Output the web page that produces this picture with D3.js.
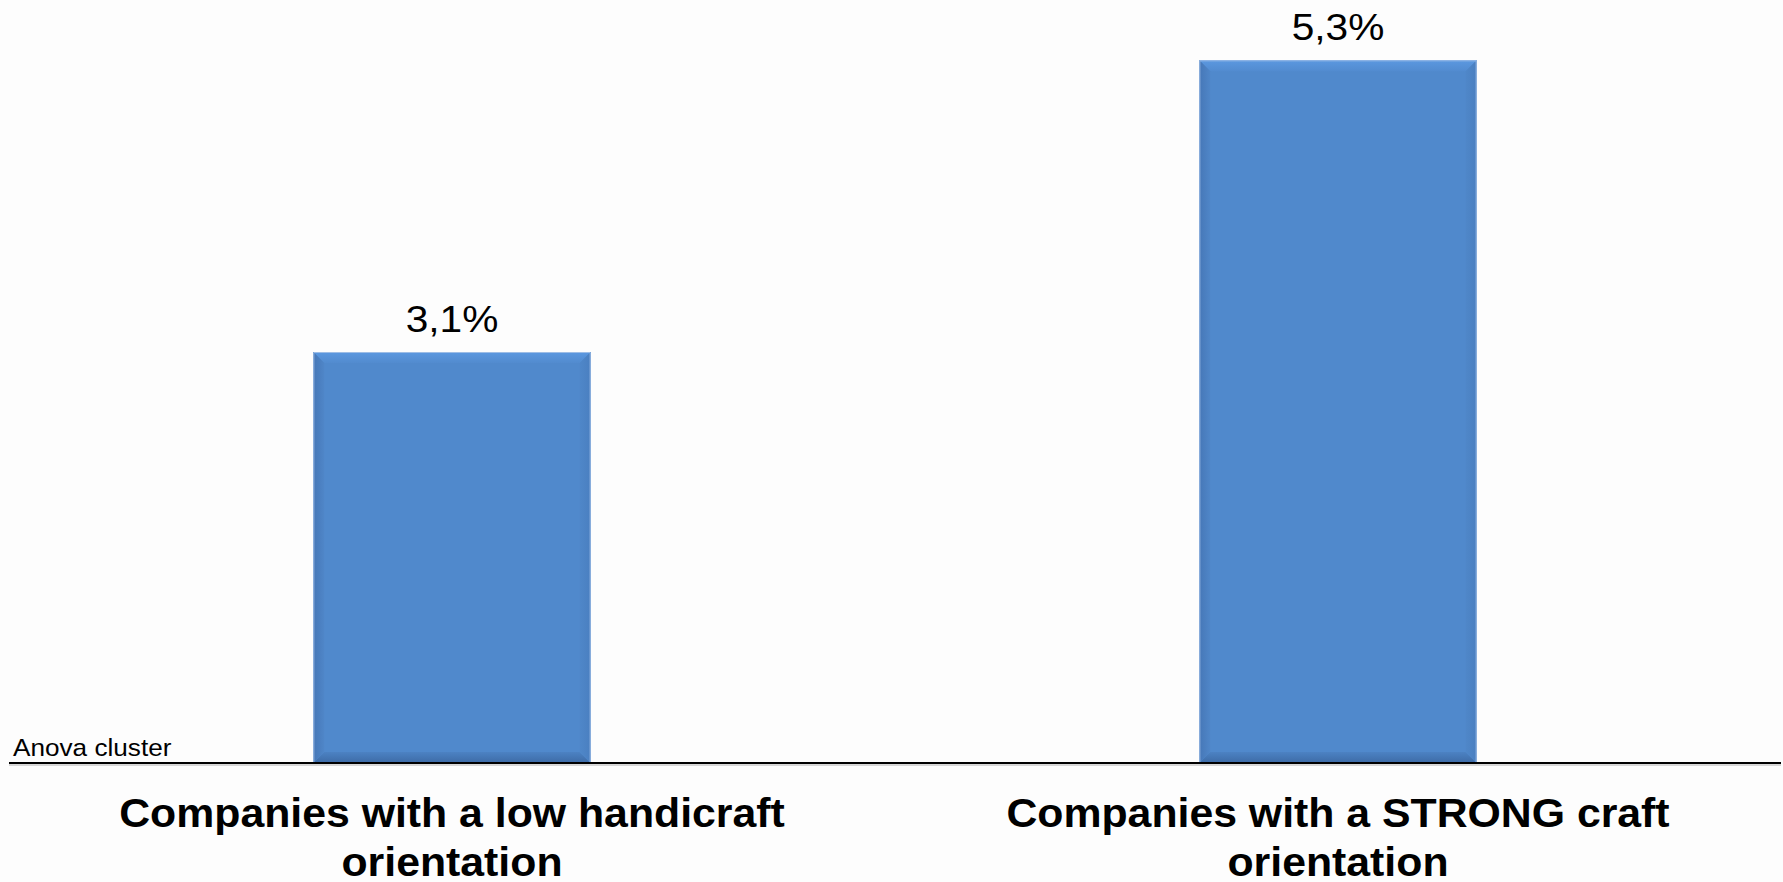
<!DOCTYPE html>
<html>
<head>
<meta charset="utf-8">
<script src="https://cdn.jsdelivr.net/npm/d3@7"></script>
<style>
  html, body { margin: 0; padding: 0; background: #fdfdfd; }
  svg { display: block; }
</style>
</head>
<body>
<svg id="chart" width="1783" height="882"></svg>
<script>
// Share of companies per cluster (%)
const categories = [
  ["Companies with a low handicraft", "orientation"],
  ["Companies with a STRONG craft", "orientation"]
];
const values = [3.1, 5.3];
const valueLabels = ["3,1%", "5,3%"];
const clusterNote = "Anova cluster";

const width = 1783, height = 882;
const baseY = 763;
const font = "Liberation Sans, Arial, sans-serif";

const svg = d3.select("#chart");

const x = d3.scaleBand()
  .domain(d3.range(values.length))
  .range([9, 1781])
  .paddingInner(0.687)
  .paddingOuter(0.3435);

const y = d3.scaleLinear()
  .domain([0, 5.755])
  .range([baseY, 0]);

// Gradients for the bevelled bar edges
const defs = svg.append("defs");
function grad(id, x1, y1, x2, y2, stops) {
  const g = defs.append("linearGradient").attr("id", id)
    .attr("x1", x1).attr("y1", y1).attr("x2", x2).attr("y2", y2);
  stops.forEach(([o, c]) => g.append("stop").attr("offset", o).attr("stop-color", c));
}
grad("bevTop", 0, 0, 0, 1, [[0, "#5b98e0"], [1, "#528bcf"]]);
grad("bevBottom", 0, 0, 0, 1, [[0, "#4c82c3"], [1, "#3d6ba6"]]);
grad("bevLeft", 0, 0, 1, 0, [[0, "#4677b7"], [1, "#4f86c8"]]);
grad("bevRight", 0, 0, 1, 0, [[0, "#4f87c9"], [1, "#4a7fc0"]]);

const bev = 11;
const bars = svg.append("g").selectAll("g")
  .data(values)
  .join("g");

bars.each(function(d, i) {
  const g = d3.select(this);
  const x0 = x(i), x1 = x(i) + x.bandwidth();
  const y0 = y(d), y1 = y(0);
  g.append("rect")
    .attr("x", x0).attr("y", y0)
    .attr("width", x1 - x0).attr("height", y1 - y0)
    .attr("fill", "#5089cc");
  const poly = pts => pts.map(p => p.join(",")).join(" ");
  g.append("polygon").attr("fill", "url(#bevTop)")
    .attr("points", poly([[x0, y0], [x1, y0], [x1 - bev, y0 + bev], [x0 + bev, y0 + bev]]));
  g.append("polygon").attr("fill", "url(#bevBottom)")
    .attr("points", poly([[x0 + bev, y1 - bev], [x1 - bev, y1 - bev], [x1, y1], [x0, y1]]));
  g.append("polygon").attr("fill", "url(#bevLeft)")
    .attr("points", poly([[x0, y0], [x0 + bev, y0 + bev], [x0 + bev, y1 - bev], [x0, y1]]));
  g.append("polygon").attr("fill", "url(#bevRight)")
    .attr("points", poly([[x1 - bev, y0 + bev], [x1, y0], [x1, y1], [x1 - bev, y1 - bev]]));
  // thin light outline on top and sides
  g.append("path")
    .attr("d", `M${x0 + 0.5},${y1} V${y0 + 0.5} H${x1 - 0.5} V${y1}`)
    .attr("fill", "none").attr("stroke", "#9dbde6").attr("stroke-width", 1);
});

// Value labels above the bars (slightly widened glyphs)
svg.append("g").selectAll("text")
  .data(values)
  .join("text")
  .attr("transform", (d, i) => `translate(${x(i) + x.bandwidth() / 2},${y(d) - 20}) scale(1.13,1)`)
  .attr("text-anchor", "middle")
  .attr("font-family", font)
  .attr("font-size", 36)
  .attr("fill", "#000")
  .text((d, i) => valueLabels[i]);

// Baseline
svg.append("line")
  .attr("x1", 9).attr("x2", 1781)
  .attr("y1", baseY + 2).attr("y2", baseY + 2)
  .attr("stroke", "#b0b0b0").attr("stroke-width", 1);
svg.append("line")
  .attr("x1", 9).attr("x2", 1781)
  .attr("y1", baseY).attr("y2", baseY)
  .attr("stroke", "#000").attr("stroke-width", 2);

// Cluster note
svg.append("text")
  .attr("transform", `translate(13,${baseY - 7}) scale(1.09,1)`)
  .attr("font-family", font)
  .attr("font-size", 24)
  .attr("fill", "#000")
  .text(clusterNote);

// Category labels, two lines each
const cat = svg.append("g").selectAll("g")
  .data(categories)
  .join("g")
  .attr("transform", (d, i) => `translate(${x(i) + x.bandwidth() / 2},0) scale(1.07,1)`);
cat.append("text")
  .attr("text-anchor", "middle")
  .attr("font-family", font)
  .attr("font-weight", "bold")
  .attr("font-size", 40)
  .attr("fill", "#000")
  .selectAll("tspan")
  .data(d => d)
  .join("tspan")
  .attr("x", 0)
  .attr("y", (d, j) => 827 + j * 49)
  .text(d => d);
</script>
</body>
</html>
